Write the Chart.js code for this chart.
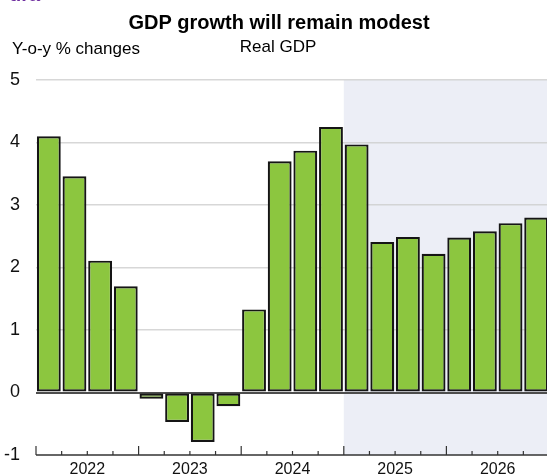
<!DOCTYPE html>
<html>
<head>
<meta charset="utf-8">
<script src="https://cdn.jsdelivr.net/npm/chart.js@4"></script>
<style>
  html, body { margin: 0; padding: 0; background: #fff; overflow: hidden; }
  #wrap { position: relative; width: 550px; height: 474px; }
</style>
</head>
<body>
<div id="wrap"><canvas id="c"></canvas></div>
<script>
const quarters = ["2022Q1","2022Q2","2022Q3","2022Q4","2023Q1","2023Q2","2023Q3","2023Q4",
                  "2024Q1","2024Q2","2024Q3","2024Q4","2025Q1","2025Q2","2025Q3","2025Q4",
                  "2026Q1","2026Q2","2026Q3","2026Q4"];
const realGdp = [4.10, 3.46, 2.11, 1.70, -0.10, -0.47, -0.79, -0.22,
                 1.33, 3.70, 3.87, 4.25, 3.97, 2.41, 2.49, 2.22,
                 2.48, 2.58, 2.71, 2.80];
const years = ["2022","2023","2024","2025","2026"];
const yTicks = [-1, 0, 1, 2, 3, 4, 5];
const projectionStart = "2025Q1";
const titleText = "GDP growth will remain modest";
const subtitleText = "Real GDP";
const unitText = "Y-o-y % changes";

const FONT = "'Liberation Sans', Arial, sans-serif";

const decor = {
  id: 'decor',
  beforeDraw(chart) {
    const ctx = chart.ctx, a = chart.chartArea, x = chart.scales.x;
    const idx = quarters.indexOf(projectionStart);
    const half = (x.getPixelForValue(1) - x.getPixelForValue(0)) / 2;
    const xs = x.getPixelForValue(idx) - half;
    ctx.save();
    ctx.fillStyle = '#ECEEF6';
    ctx.fillRect(xs, a.top, a.right - xs + 5, a.bottom - a.top);
    ctx.restore();
  },
  afterDraw(chart) {
    const ctx = chart.ctx, a = chart.chartArea, x = chart.scales.x;
    const half = (x.getPixelForValue(1) - x.getPixelForValue(0)) / 2;
    ctx.save();
    ctx.strokeStyle = '#333';
    ctx.lineWidth = 1.5;
    ctx.beginPath();
    ctx.moveTo(a.left, a.bottom);
    ctx.lineTo(a.right + 5, a.bottom);
    ctx.stroke();
    ctx.lineWidth = 1.2;
    for (let i = 0; i <= quarters.length; i++) {
      const px = x.getPixelForValue(i) - half;
      const len = (i % 4 === 0) ? 9 : 4;
      ctx.beginPath();
      ctx.moveTo(px, a.bottom);
      ctx.lineTo(px, a.bottom - len);
      ctx.stroke();
    }
    ctx.fillStyle = '#111';
    ctx.font = '16px ' + FONT;
    ctx.textAlign = 'center';
    ctx.textBaseline = 'alphabetic';
    years.forEach((yr, j) => {
      const px = x.getPixelForValue(j * 4) - half + 4 * half;
      ctx.fillText(yr, px, 474);
    });
    ctx.fillStyle = '#000';
    ctx.font = 'bold 20px ' + FONT;
    ctx.fillText(titleText, 279, 29);
    ctx.font = '17px ' + FONT;
    ctx.fillText(subtitleText, 278, 52);
    ctx.textAlign = 'left';
    ctx.fillText(unitText, 12, 54);
    ctx.fillStyle = '#7030A0';
    ctx.font = 'bold 20px ' + FONT;
    ctx.fillText('ura', 9, 1);
    ctx.restore();
  }
};

new Chart(document.getElementById('c'), {
  type: 'bar',
  data: {
    labels: quarters,
    datasets: [{
      data: realGdp,
      backgroundColor: '#8CC63F',
      borderColor: '#151515',
      borderWidth: 2.2,
      borderSkipped: false,
      barPercentage: 0.93,
      categoryPercentage: 1.0
    }]
  },
  options: {
    responsive: true,
    maintainAspectRatio: false,
    animation: false,
    events: [],
    layout: { padding: { top: 80, bottom: 19, left: 0, right: 1 } },
    plugins: { legend: { display: false }, tooltip: { enabled: false } },
    scales: {
      x: {
        display: false,
        offset: true,
        afterFit(s) { s.paddingLeft = 0; s.paddingRight = 0; }
      },
      y: {
        min: -1, max: 5,
        z: 1,
        afterBuildTicks(s) { s.ticks = yTicks.map(v => ({ value: v })); },
        afterFit(s) { s.width = 36; s.paddingTop = 0; s.paddingBottom = 0; },
        border: { display: false },
        grid: {
          drawTicks: false,
          color: (c) => c.tick.value === 0 ? '#4d4d4d' : (c.tick.value === -1 ? 'rgba(0,0,0,0)' : 'rgba(205,205,205,0.8)'),
          lineWidth: (c) => c.tick.value === 0 ? 2 : 1.5
        },
        ticks: {
          padding: 16,
          color: '#111',
          font: { family: FONT, size: 18 },
          callback: (v) => String(v)
        }
      }
    }
  },
  plugins: [decor]
});
</script>
</body>
</html>
